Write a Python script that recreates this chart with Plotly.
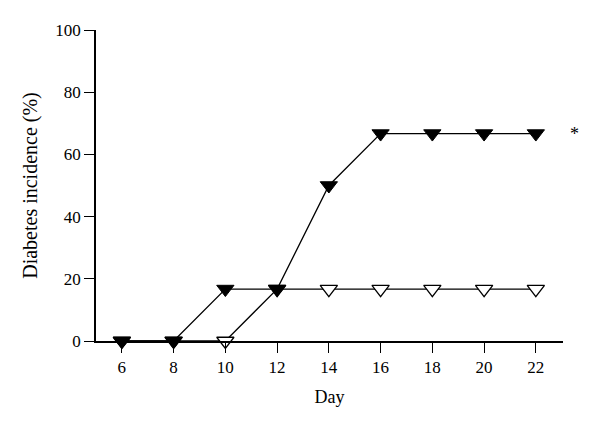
import plotly.graph_objects as go

days = [6, 8, 10, 12, 14, 16, 18, 20, 22]
filled_group = [0, 0, 16.7, 16.7, 50, 66.7, 66.7, 66.7, 66.7]
open_group = [0, 0, 0, 16.7, 16.7, 16.7, 16.7, 16.7, 16.7]
x_ticks = [6, 8, 10, 12, 14, 16, 18, 20, 22]
y_ticks = [0, 20, 40, 60, 80, 100]

font_family = "Liberation Serif, DejaVu Serif, serif"

fig = go.Figure()
fig.add_trace(go.Scatter(
    x=days, y=open_group, mode="lines+markers",
    line=dict(color="black", width=1.3),
    marker=dict(symbol="triangle-down", size=15, color="white",
                line=dict(color="black", width=1.3)),
    cliponaxis=False, showlegend=False))
fig.add_trace(go.Scatter(
    x=days, y=filled_group, mode="lines+markers",
    line=dict(color="black", width=1.3),
    marker=dict(symbol="triangle-down", size=15, color="black",
                line=dict(color="black", width=1)),
    cliponaxis=False, showlegend=False))

fig.add_annotation(x=1.01, y=filled_group[-1], xref="paper", yref="y", text="*",
                   xanchor="left", showarrow=False,
                   font=dict(size=18, color="black", family=font_family))

fig.update_layout(
    width=592, height=419,
    margin=dict(l=88, r=37, t=22, b=86),
    paper_bgcolor="white", plot_bgcolor="white",
    font=dict(family=font_family, size=17, color="black"),
    xaxis=dict(range=[5, 23.05], tickvals=x_ticks, ticks="outside", ticklen=10,
               tickwidth=1.3, tickcolor="black", showline=True, linecolor="black",
               linewidth=1.5, showgrid=False, zeroline=False,
               tickfont=dict(size=17, family=font_family),
               title=dict(text="Day", standoff=14, font=dict(size=18))),
    yaxis=dict(range=[0, 100], tickvals=y_ticks, ticks="outside", ticklen=10,
               tickwidth=1.3, tickcolor="black", showline=True, linecolor="black",
               linewidth=1.5, showgrid=False, zeroline=False,
               tickfont=dict(size=17, family=font_family),
               title=dict(text="Diabetes incidence (%)", standoff=12, font=dict(size=20))),
)

fig.write_html("out.html")
